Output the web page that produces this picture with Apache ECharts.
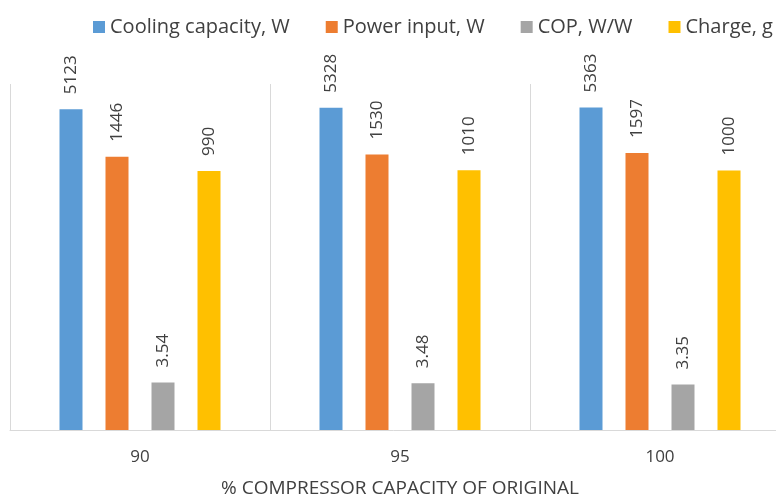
<!DOCTYPE html>
<html>
<head>
<meta charset="utf-8">
<script src="https://cdn.jsdelivr.net/npm/echarts@6/dist/echarts.min.js"></script>
<style>
html,body{margin:0;padding:0;background:#fff;}
#chart{width:776px;height:499px;}
</style>
</head>
<body>
<div id="chart"></div>
<script>
const categories = ['90', '95', '100'];
const coolingCapacity = [5123, 5328, 5363];
const powerInput = [1446, 1530, 1597];
const cop = [3.54, 3.48, 3.35];
const charge = [990, 1010, 1000];
const seriesNames = ['Cooling capacity, W', 'Power input, W', 'COP, W/W', 'Charge, g'];
const seriesColors = ['#5B9BD5', '#ED7D31', '#A5A5A5', '#FFC000'];
const seriesData = [coolingCapacity, powerInput, cop, charge];

const chart = echarts.init(document.getElementById('chart'));
const font = '"Open Sans", "Noto Sans", sans-serif';
chart.setOption({
  animation: false,
  backgroundColor: '#fff',
  legend: {
    left: 88,
    top: 12,
    width: 1000,
    itemWidth: 12,
    itemHeight: 12,
    itemGap: 36,
    icon: 'rect',
    textStyle: { fontSize: 20, color: '#404040', fontFamily: font }
  },
  grid: { left: 10, width: 780, top: 84, bottom: 69, containLabel: false, outerBoundsMode: 'none' },
  xAxis: {
    type: 'category',
    data: categories,
    axisLine: { show: true, lineStyle: { color: '#D9D9D9', width: 1 } },
    axisTick: { show: false },
    splitLine: { show: true, lineStyle: { color: '#D9D9D9', width: 1 } },
    axisLabel: { margin: 19, fontSize: 17, color: '#404040', fontFamily: font },
    name: '% COMPRESSOR CAPACITY OF ORIGINAL',
    nameLocation: 'middle',
    nameGap: 49,
    nameTextStyle: { fontSize: 19, color: '#404040', fontFamily: font }
  },
  yAxis: {
    type: 'log',
    logBase: 10,
    min: 1,
    max: 10000,
    show: false,
    splitLine: { show: false }
  },
  series: seriesNames.map((name, i) => ({
    name: name,
    type: 'bar',
    data: seriesData[i],
    barWidth: 23,
    barGap: '100%',
    itemStyle: { color: seriesColors[i] },
    label: {
      show: true,
      position: 'top',
      rotate: 90,
      align: 'left',
      verticalAlign: 'middle',
      distance: 15,
      fontSize: 17,
      color: '#404040',
      fontFamily: font
    }
  }))
});
</script>
</body>
</html>
